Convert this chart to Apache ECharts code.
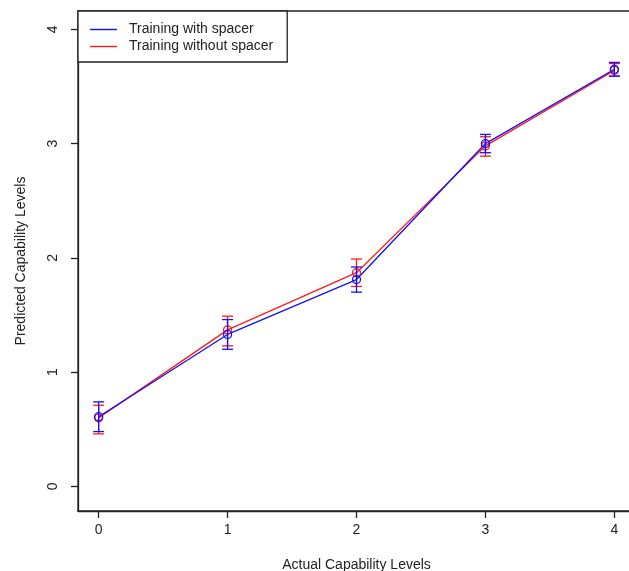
<!DOCTYPE html>
<html>
<head>
<meta charset="utf-8">
<script src="https://cdn.jsdelivr.net/npm/echarts@6/dist/echarts.min.js"></script>
<style>html,body{margin:0;padding:0;background:#fff;}#c{width:629px;height:571px;}</style>
</head>
<body>
<div id="c"></div>
<script>
// Data
var levels = [0, 1, 2, 3, 4];
var tickLabels = ['0', '1', '2', '3', '4'];
var withSpacerMean = [0.61, 1.33, 1.81, 3.00, 3.65];
var withSpacerLow  = [0.48, 1.20, 1.70, 2.92, 3.59];
var withSpacerHigh = [0.74, 1.46, 1.92, 3.08, 3.71];
var withoutSpacerMean = [0.60, 1.37, 1.87, 2.98, 3.64];
var withoutSpacerLow  = [0.46, 1.23, 1.75, 2.89, 3.59];
var withoutSpacerHigh = [0.71, 1.49, 1.99, 3.06, 3.70];

var BLUE = '#1010ff', RED = '#ff1a1a';

function pairs(xs, ys) { return xs.map(function (x, i) { return [x, ys[i]]; }); }
function errData(xs, m, lo, hi) { return xs.map(function (x, i) { return [x, m[i], lo[i], hi[i]]; }); }

function errRender(color) {
  return function (params, api) {
    var x = api.value(0);
    var pm = api.coord([x, api.value(1)]);
    var pl = api.coord([x, api.value(2)]);
    var ph = api.coord([x, api.value(3)]);
    var hw = 5.5, r = 4;
    var st = { stroke: color, lineWidth: 1.3, fill: null };
    return {
      type: 'group',
      children: [
        { type: 'line', shape: { x1: pm[0], y1: ph[1], x2: pm[0], y2: pl[1] }, style: st },
        { type: 'line', shape: { x1: pm[0] - hw, y1: ph[1], x2: pm[0] + hw, y2: ph[1] }, style: st },
        { type: 'line', shape: { x1: pm[0] - hw, y1: pl[1], x2: pm[0] + hw, y2: pl[1] }, style: st },
        { type: 'circle', shape: { cx: pm[0], cy: pm[1], r: r }, style: { stroke: color, lineWidth: 1.3, fill: 'rgba(0,0,0,0)' } }
      ]
    };
  };
}

var chart = echarts.init(document.getElementById('c'), null, { renderer: 'canvas' });
var font = 'Liberation Sans, Arial, sans-serif';
var fs = 14;
function fmt(v) { var i = levels.indexOf(v); return i >= 0 ? tickLabels[i] : ''; }
chart.setOption({
  animation: false,
  backgroundColor: '#fff',
  textStyle: { fontFamily: font },
  grid: { left: 78, top: 11, width: 557, height: 500, outerBoundsMode: 'none', containLabel: false,
    show: true, borderColor: '#222', borderWidth: 1.3, backgroundColor: 'transparent' },
  legend: {
    left: 78, top: 11, orient: 'vertical',
    backgroundColor: '#fff', borderColor: '#222', borderWidth: 1.3,
    padding: [11, 14, 8, 12], itemGap: 2, itemWidth: 27, itemHeight: 1.4,
    icon: 'rect',
    textStyle: { fontFamily: font, fontSize: fs, lineHeight: 15, color: '#222', padding: [0, 0, 0, 7] },
    data: ['Training with spacer', 'Training without spacer']
  },
  xAxis: {
    type: 'value', min: -0.16, max: 4.16,
    name: 'Actual Capability Levels', nameLocation: 'middle', nameGap: 47,
    nameTextStyle: { fontFamily: font, fontSize: fs, color: '#222' },
    axisLine: { show: true, onZero: false, lineStyle: { color: '#222', width: 1.3 } },
    axisTick: { show: true, length: 7, lineStyle: { color: '#222', width: 1.3 }, customValues: levels },
    axisLabel: { fontFamily: font, fontSize: fs, color: '#222', margin: 12, customValues: levels, formatter: fmt },
    splitLine: { show: false }
  },
  yAxis: {
    type: 'value', min: -0.215, max: 4.16,
    name: 'Predicted Capability Levels', nameLocation: 'middle', nameGap: 50, nameRotate: 90,
    nameTextStyle: { fontFamily: font, fontSize: fs, color: '#222' },
    axisLine: { show: true, onZero: false, lineStyle: { color: '#222', width: 1.3 } },
    axisTick: { show: true, length: 7, lineStyle: { color: '#222', width: 1.3 }, customValues: levels },
    axisLabel: { fontFamily: font, fontSize: fs, color: '#222', margin: 18, rotate: 90, customValues: levels, formatter: fmt },
    splitLine: { show: false }
  },
  series: [
    { name: 'Training without spacer', type: 'line', data: pairs(levels, withoutSpacerMean), symbol: 'none',
      lineStyle: { color: RED, width: 1.3 }, itemStyle: { color: RED }, z: 2 },
    { name: 'Training with spacer', type: 'line', data: pairs(levels, withSpacerMean), symbol: 'none',
      lineStyle: { color: BLUE, width: 1.3 }, itemStyle: { color: BLUE }, z: 3 },
    { name: 'Training without spacer', type: 'custom', data: errData(levels, withoutSpacerMean, withoutSpacerLow, withoutSpacerHigh),
      renderItem: errRender(RED), encode: { x: 0, y: [1, 2, 3] }, z: 4 },
    { name: 'Training with spacer', type: 'custom', data: errData(levels, withSpacerMean, withSpacerLow, withSpacerHigh),
      renderItem: errRender(BLUE), encode: { x: 0, y: [1, 2, 3] }, z: 5 }
  ]
});
</script>
</body>
</html>
